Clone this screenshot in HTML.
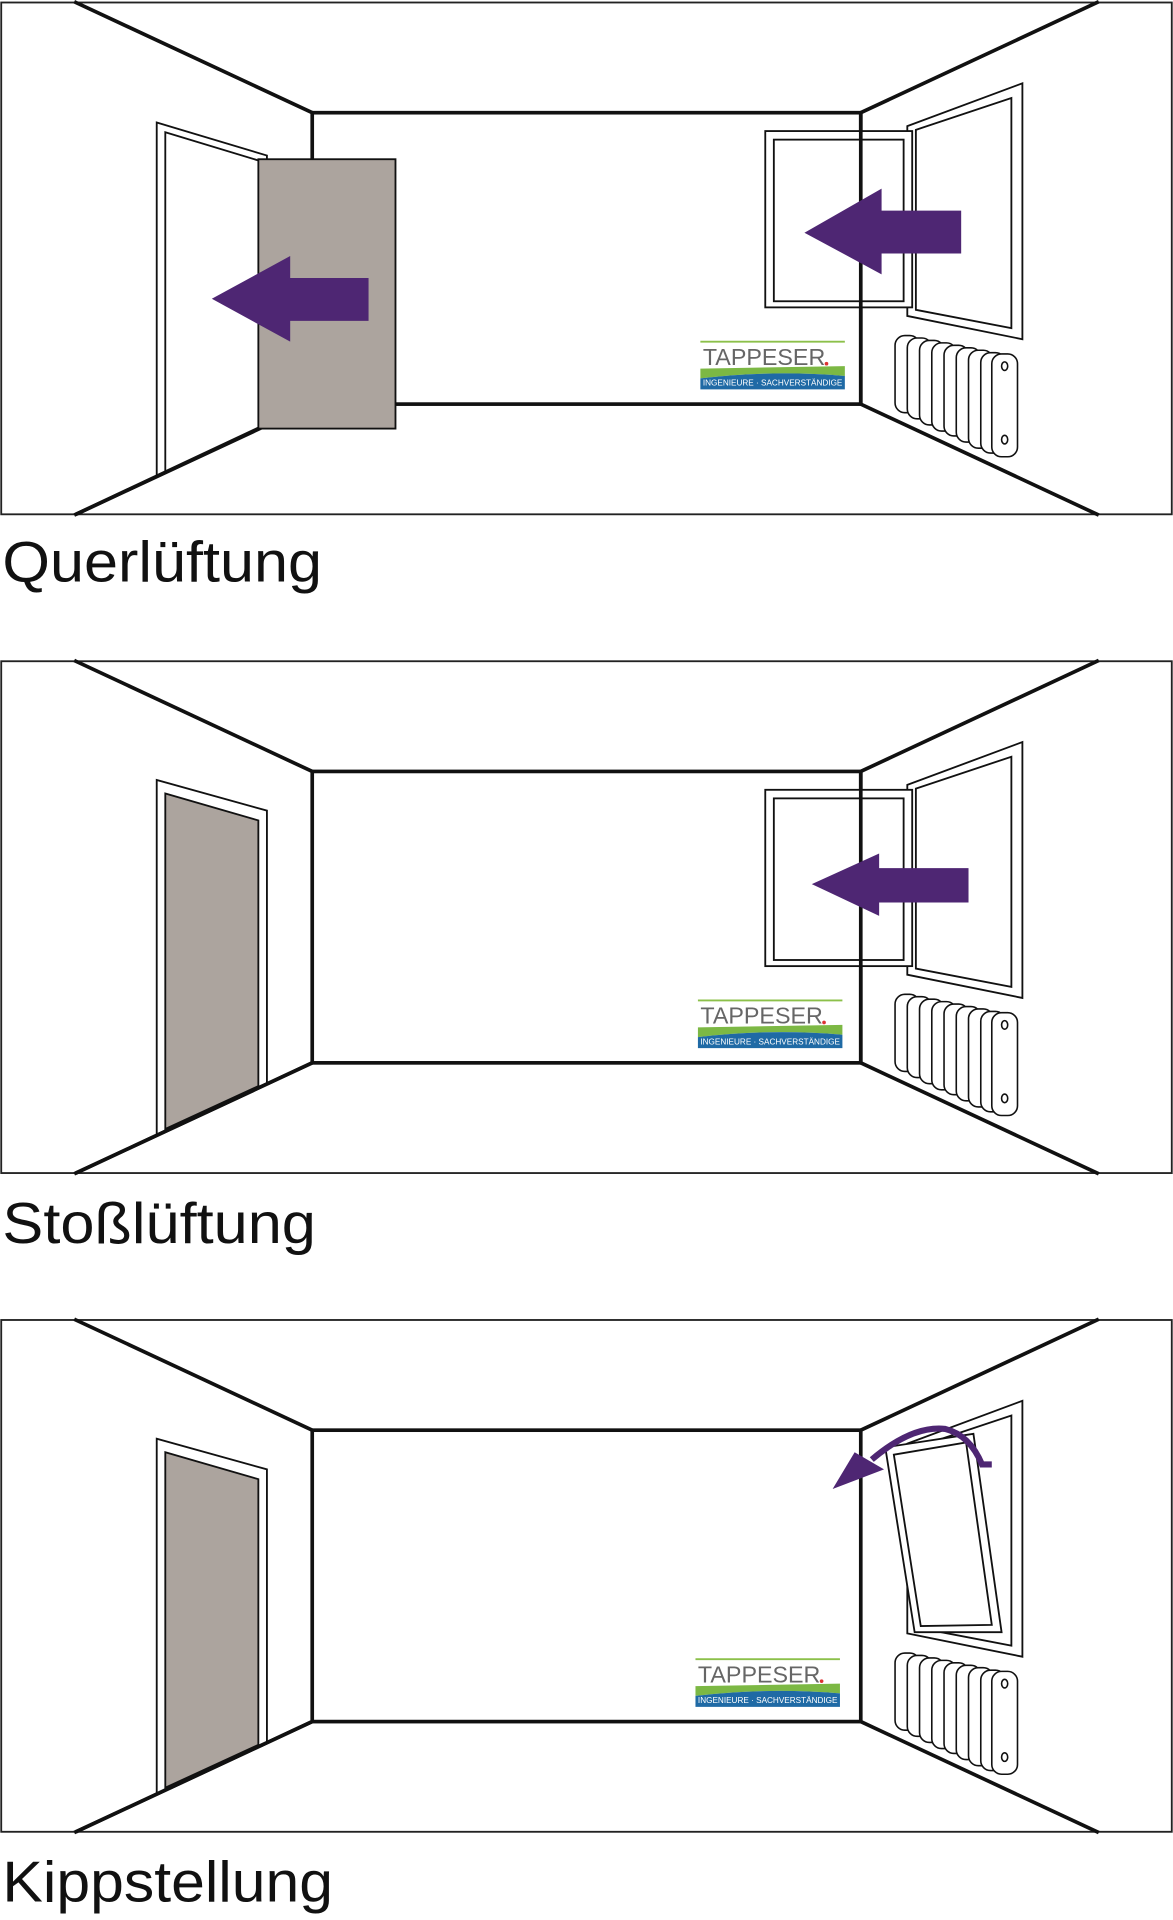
<!DOCTYPE html>
<html><head><meta charset="utf-8"><style>
html,body{margin:0;padding:0;background:#fff;}
svg{display:block;}
</style></head><body>
<svg width="1173" height="1920" viewBox="0 0 958 1568" xmlns="http://www.w3.org/2000/svg">
<defs>
<g id="room">
  <rect x="1" y="2" width="956" height="418" fill="#fff" stroke="#222" stroke-width="1.5"/>
  <g stroke="#111" stroke-width="3" fill="none" stroke-linecap="square">
    <line x1="62" y1="2" x2="255" y2="92"/>
    <line x1="896" y1="2" x2="703" y2="92"/>
    <rect x="255" y="92" width="448" height="238"/>
    <line x1="255" y1="330" x2="62" y2="420"/>
    <line x1="703" y1="330" x2="896" y2="420"/>
  </g>
</g>
<g id="rad" stroke="#111" stroke-width="1.3" fill="#fff">
  <rect x="731" y="274" width="20" height="63" rx="8"/>
  <rect x="741" y="276" width="20" height="66" rx="8"/>
  <rect x="751" y="278" width="20" height="69" rx="8"/>
  <rect x="761" y="280" width="20" height="72" rx="8"/>
  <rect x="771" y="282" width="20" height="74" rx="8"/>
  <rect x="781" y="284" width="20" height="77" rx="8"/>
  <rect x="791" y="286" width="20" height="80" rx="8"/>
  <rect x="801" y="288" width="20" height="82" rx="8"/>
  <rect x="810" y="289" width="21" height="84" rx="8"/>
  <ellipse cx="820.5" cy="299" rx="2.5" ry="3.5"/>
  <ellipse cx="820.5" cy="359" rx="2.5" ry="3.5"/>
</g>
<g id="openwin" stroke="#111" stroke-width="1.5" fill="none">
  <polygon points="741,103 835,68 835,277 741,258" fill="#fff"/>
  <polygon points="748,106 826,80 826,268 748,253"/>
  <rect x="625" y="107" width="120" height="144" fill="#fff"/>
  <rect x="632" y="114" width="106" height="132"/>
  <line x1="703" y1="92" x2="703" y2="330" stroke-width="3"/>
</g>
<g id="logoshape">
  <line x1="572" y1="279" x2="690" y2="279" stroke="#8cc04a" stroke-width="1.5"/>
  <path d="M572 301 L690 299 L690 307 Q630 302 572 309 Z" fill="#7cb844"/>
  <path d="M572 309 Q630 302 690 307 L690 318 L572 318 Z" fill="#1f6aa5"/>
</g>
</defs>

<!-- Panel 1 -->
<use href="#room"/>
<g stroke="#111" stroke-width="1.5" fill="none">
  <polyline points="128,388 128,100 218,127 218,131"/>
  <polyline points="135,385 135,108 211,131"/>
</g>
<rect x="211" y="130" width="112" height="220" fill="#aca49e" stroke="#111" stroke-width="1.5"/>
<line x1="211" y1="350" x2="62" y2="420" stroke="#111" stroke-width="3"/>
<polygon points="173,244 237,209 237,227 301,227 301,262 237,262 237,279" fill="#4e2673"/>
<use href="#openwin"/>
<polygon points="657,190 720,154 720,172 785,172 785,207 720,207 720,224" fill="#4e2673"/>
<use href="#rad"/>
<use href="#logoshape"/>
<text x="574" y="298" font-family="Liberation Sans, sans-serif" font-size="19" fill="#666" textLength="100" lengthAdjust="spacingAndGlyphs">TAPPESER</text>
<circle cx="675" cy="297" r="1.5" fill="#d33"/>
<text x="574" y="315" font-family="Liberation Sans, sans-serif" font-size="7" fill="#fff" textLength="114" lengthAdjust="spacingAndGlyphs">INGENIEURE · SACHVERSTÄNDIGE</text>
<text x="2" y="475" font-family="Liberation Sans, sans-serif" font-size="47" fill="#111" textLength="261" lengthAdjust="spacingAndGlyphs">Querlüftung</text>

<!-- Panel 2 -->
<g transform="translate(0,538)">
<use href="#room"/>
<g stroke="#111" stroke-width="1.5" fill="none">
  <polyline points="128,388 128,99 218,124 218,346"/>
</g>
<polygon points="135,384 135,110 211,132 211,349" fill="#aca49e" stroke="#111" stroke-width="1.5"/>
<line x1="255" y1="330" x2="62" y2="420" stroke="#111" stroke-width="3"/>
<use href="#openwin"/>
<polygon points="663,184 718,159 718,171 791,171 791,199 718,199 718,210" fill="#4e2673"/>
<use href="#rad"/>
<g transform="translate(-2,0)">
<use href="#logoshape"/>
<text x="574" y="298" font-family="Liberation Sans, sans-serif" font-size="19" fill="#666" textLength="100" lengthAdjust="spacingAndGlyphs">TAPPESER</text>
<circle cx="675" cy="297" r="1.5" fill="#d33"/>
<text x="574" y="315" font-family="Liberation Sans, sans-serif" font-size="7" fill="#fff" textLength="114" lengthAdjust="spacingAndGlyphs">INGENIEURE · SACHVERSTÄNDIGE</text>
</g>
</g>
<text x="2" y="1015" font-family="Liberation Sans, sans-serif" font-size="47" fill="#111" textLength="256" lengthAdjust="spacingAndGlyphs">Stoßlüftung</text>

<!-- Panel 3 -->
<g transform="translate(0,1076)">
<use href="#room"/>
<g stroke="#111" stroke-width="1.5" fill="none">
  <polyline points="128,388 128,99 218,124 218,346"/>
</g>
<polygon points="135,384 135,110 211,132 211,349" fill="#aca49e" stroke="#111" stroke-width="1.5"/>
<line x1="255" y1="330" x2="62" y2="420" stroke="#111" stroke-width="3"/>
<g stroke="#111" stroke-width="1.5" fill="none">
  <polygon points="741,103 835,68 835,277 741,258" fill="#fff"/>
  <polygon points="748,106 826,80 826,268 748,253"/>
  <polygon points="723,106 795,95 818,257 747,257" fill="#fff"/>
  <polygon points="730,112 789,102 810,251 752,252"/>
</g>
<path d="M810,120 L802,120 Q792,96 772,91 Q745,88 712,116" stroke="#4e2673" stroke-width="5" fill="none"/>
<polygon points="680,140 698,110 722,124" fill="#4e2673"/>
<use href="#rad"/>
<g transform="translate(-4,0)">
<use href="#logoshape"/>
<text x="574" y="298" font-family="Liberation Sans, sans-serif" font-size="19" fill="#666" textLength="100" lengthAdjust="spacingAndGlyphs">TAPPESER</text>
<circle cx="675" cy="297" r="1.5" fill="#d33"/>
<text x="574" y="315" font-family="Liberation Sans, sans-serif" font-size="7" fill="#fff" textLength="114" lengthAdjust="spacingAndGlyphs">INGENIEURE · SACHVERSTÄNDIGE</text>
</g>
</g>
<text x="2" y="1553" font-family="Liberation Sans, sans-serif" font-size="47" fill="#111" textLength="270" lengthAdjust="spacingAndGlyphs">Kippstellung</text>
</svg>
</body></html>
